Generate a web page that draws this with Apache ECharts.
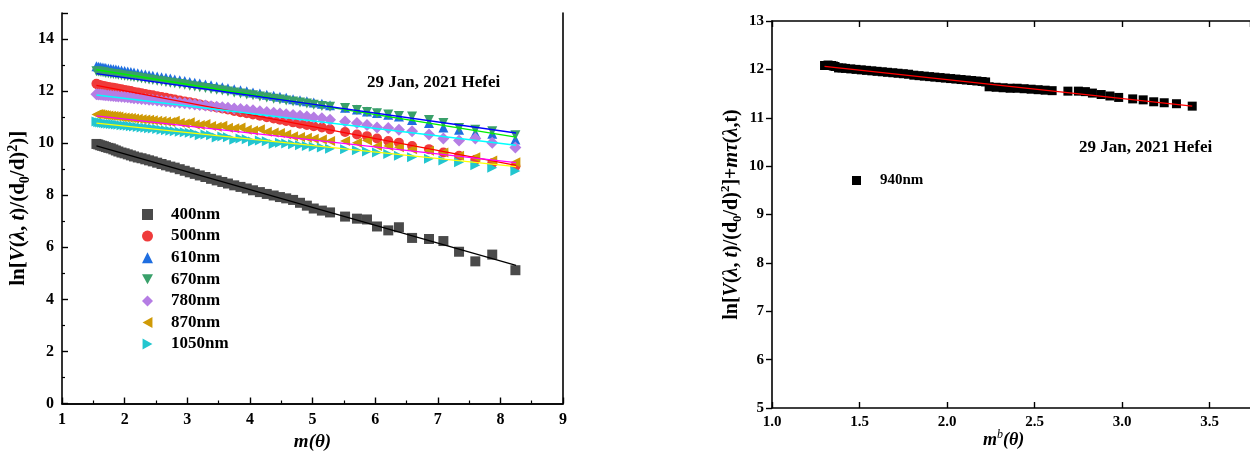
<!DOCTYPE html>
<html>
<head>
    <meta charset="utf-8">
    <title>ln V vs air mass</title>
    <script src="https://cdn.jsdelivr.net/npm/echarts@6/dist/echarts.min.js"></script>
    <style type="text/css">
        html, body {
            margin: 0;
            padding: 0;
            background: #ffffff;
        }
        #main {
            width: 1250px;
            height: 457px;
        }
    </style>
</head>
<body>
<div id="main"></div>
<script>
    // air mass m(theta), shared by all wavelengths on the left panel
    var xs = [1.55, 1.58, 1.61, 1.64, 1.67, 1.70, 1.74, 1.78, 1.82, 1.86,
        1.90, 1.95, 2.00, 2.05, 2.10, 2.15, 2.21, 2.27, 2.33, 2.39,
        2.45, 2.52, 2.59, 2.66, 2.73, 2.80, 2.88, 2.96, 3.04, 3.12,
        3.20, 3.29, 3.38, 3.47, 3.56, 3.65, 3.75, 3.85, 3.95, 4.05,
        4.16, 4.27, 4.38, 4.48, 4.58, 4.69, 4.80, 4.91, 5.02, 5.15,
        5.28, 5.52, 5.71, 5.87, 6.03, 6.21, 6.38, 6.59, 6.86, 7.09,
        7.34, 7.60, 7.87, 8.24];

    var y400 = [9.97, 9.95, 9.92, 9.90, 9.88, 9.85, 9.82, 9.80, 9.76, 9.72,
        9.68, 9.64, 9.61, 9.57, 9.53, 9.49, 9.45, 9.42, 9.38, 9.34,
        9.30, 9.25, 9.20, 9.15, 9.10, 9.06, 9.00, 8.94, 8.88, 8.82,
        8.76, 8.70, 8.63, 8.57, 8.51, 8.45, 8.38, 8.32, 8.26, 8.19,
        8.12, 8.05, 7.99, 7.93, 7.88, 7.82, 7.71, 7.60, 7.49, 7.41,
        7.34, 7.18, 7.10, 7.07, 6.80, 6.65, 6.77, 6.36, 6.32, 6.24,
        5.83, 5.46, 5.72, 5.12];
    var y500 = [12.28, 12.24, 12.22, 12.21, 12.19, 12.18, 12.16, 12.14, 12.13, 12.11,
        12.09, 12.07, 12.04, 12.02, 12.00, 11.97, 11.95, 11.92, 11.89, 11.86,
        11.84, 11.80, 11.77, 11.74, 11.71, 11.68, 11.64, 11.60, 11.57, 11.53,
        11.49, 11.45, 11.41, 11.37, 11.33, 11.29, 11.24, 11.19, 11.15, 11.10,
        11.05, 11.00, 10.95, 10.90, 10.85, 10.80, 10.75, 10.70, 10.65, 10.60,
        10.53, 10.43, 10.33, 10.27, 10.18, 10.08, 10.02, 9.89, 9.77, 9.64,
        9.52, 9.36, 9.23, 9.11];
    var y610 = [12.95, 12.94, 12.93, 12.91, 12.90, 12.89, 12.87, 12.86, 12.84, 12.83,
        12.81, 12.79, 12.77, 12.75, 12.73, 12.71, 12.69, 12.66, 12.64, 12.61,
        12.59, 12.56, 12.53, 12.51, 12.48, 12.45, 12.42, 12.39, 12.35, 12.32,
        12.29, 12.25, 12.22, 12.18, 12.15, 12.11, 12.07, 12.03, 11.99, 11.95,
        11.91, 11.86, 11.82, 11.78, 11.74, 11.69, 11.65, 11.61, 11.56, 11.51,
        11.46, 11.36, 11.29, 11.22, 11.16, 11.09, 11.02, 10.89, 10.77, 10.60,
        10.52, 10.39, 10.36, 10.14];
    var y670 = [12.76, 12.75, 12.74, 12.73, 12.72, 12.70, 12.69, 12.67, 12.66, 12.65,
        12.63, 12.61, 12.59, 12.58, 12.56, 12.54, 12.52, 12.49, 12.47, 12.45,
        12.43, 12.40, 12.38, 12.35, 12.32, 12.30, 12.27, 12.24, 12.21, 12.18,
        12.15, 12.12, 12.08, 12.05, 12.02, 11.98, 11.95, 11.91, 11.87, 11.84,
        11.79, 11.75, 11.71, 11.68, 11.64, 11.60, 11.56, 11.52, 11.48, 11.43,
        11.40, 11.35, 11.27, 11.20, 11.15, 11.10, 11.04, 11.02, 10.89, 10.77,
        10.58, 10.52, 10.46, 10.30];
    var y780 = [11.88, 11.87, 11.87, 11.86, 11.85, 11.84, 11.83, 11.82, 11.81, 11.80,
        11.79, 11.78, 11.77, 11.76, 11.74, 11.73, 11.72, 11.70, 11.69, 11.67,
        11.66, 11.64, 11.62, 11.60, 11.59, 11.57, 11.55, 11.53, 11.51, 11.49,
        11.47, 11.45, 11.42, 11.40, 11.38, 11.36, 11.33, 11.31, 11.28, 11.26,
        11.23, 11.20, 11.17, 11.14, 11.11, 11.08, 11.05, 11.02, 10.99, 10.96,
        10.90, 10.83, 10.77, 10.70, 10.60, 10.58, 10.52, 10.46, 10.33, 10.18,
        10.10, 10.18, 10.02, 9.83];
    var y870 = [11.10, 11.12, 11.11, 11.09, 11.08, 11.07, 11.06, 11.05, 11.04, 11.03,
        11.02, 11.00, 10.99, 10.98, 10.97, 10.95, 10.94, 10.92, 10.91, 10.90,
        10.88, 10.86, 10.85, 10.83, 10.81, 10.86, 10.78, 10.76, 10.80, 10.72,
        10.70, 10.74, 10.66, 10.63, 10.67, 10.59, 10.57, 10.60, 10.52, 10.49,
        10.53, 10.44, 10.41, 10.39, 10.33, 10.27, 10.24, 10.21, 10.17, 10.14,
        10.08, 10.08, 10.02, 10.10, 9.89, 9.89, 9.84, 9.77, 9.71, 9.64,
        9.52, 9.46, 9.33, 9.27];
    var y1050 = [10.83, 10.80, 10.79, 10.78, 10.77, 10.76, 10.75, 10.74, 10.73, 10.72,
        10.71, 10.69, 10.68, 10.67, 10.65, 10.64, 10.62, 10.60, 10.59, 10.57,
        10.56, 10.54, 10.52, 10.50, 10.48, 10.46, 10.44, 10.42, 10.40, 10.37,
        10.30, 10.33, 10.30, 10.22, 10.26, 10.23, 10.13, 10.18, 10.15, 10.06,
        10.10, 10.07, 9.97, 10.02, 9.99, 9.96, 9.92, 9.89, 9.86, 9.83,
        9.79, 9.77, 9.73, 9.68, 9.64, 9.58, 9.52, 9.46, 9.40, 9.33,
        9.27, 9.15, 9.06, 8.93];

    // linear fits, left panel (end points)
    var fitX = [1.55, 8.25];
    var fit400 = [9.90, 5.31];
    var fit500 = [12.22, 9.15];
    var fitLime = [12.82, 10.23];
    var fitBlue = [12.67, 10.39];
    var fit780 = [11.85, 9.92];
    var fit870 = [11.05, 9.25];
    var fit1050 = [10.77, 9.10];

    // right panel, 940nm
    var x940 = [1.30, 1.31, 1.32, 1.33, 1.34, 1.35, 1.36, 1.38, 1.40, 1.42,
        1.45, 1.48, 1.51, 1.54, 1.57, 1.60, 1.63, 1.66, 1.69, 1.72,
        1.75, 1.78, 1.81, 1.84, 1.87, 1.90, 1.93, 1.96, 1.99, 2.02,
        2.05, 2.08, 2.11, 2.14, 2.17, 2.20, 2.22, 2.24, 2.28, 2.32,
        2.36, 2.40, 2.44, 2.48, 2.52, 2.56, 2.60, 2.69, 2.75, 2.79,
        2.83, 2.88, 2.93, 2.98, 3.06, 3.12, 3.18, 3.24, 3.31, 3.40];
    var y940 = [12.08, 12.08, 12.09, 12.08, 12.08, 12.07, 12.06, 12.03, 12.03, 12.02,
        12.01, 12.00, 11.99, 11.98, 11.97, 11.96, 11.95, 11.94, 11.93, 11.92,
        11.91, 11.90, 11.88, 11.87, 11.86, 11.85, 11.84, 11.83, 11.82, 11.81,
        11.80, 11.79, 11.78, 11.77, 11.76, 11.75, 11.74, 11.64, 11.63, 11.62,
        11.61, 11.61, 11.60, 11.59, 11.58, 11.57, 11.56, 11.55, 11.55, 11.54,
        11.51, 11.48, 11.45, 11.42, 11.39, 11.37, 11.33, 11.31, 11.29, 11.24];
    var fit940X = [1.30, 3.40];
    var fit940 = [12.06, 11.24];

    var leftNames = ['400nm', '500nm', '610nm', '670nm', '780nm', '870nm', '1050nm'];

    var serif = "'Liberation Serif', 'Times New Roman', serif";

    // marker shapes (Origin style)
    var triDown = 'path://M0,0L10,0L5,9Z';
    var triLeft = 'path://M0,5L9,0L9,10Z';
    var triRight = 'path://M9,5L0,0L0,10Z';
    var shapes = ['rect', 'circle', 'triangle', triDown, 'diamond', triLeft, triRight];

    function pairs(xArr, yArr) {
        return yArr.map(function (v, i) {
            return [xArr[i], v];
        });
    }

    function richSet(size, small) {
        return {
            n: {fontFamily: serif, fontWeight: 'bold', fontSize: size, color: '#000', lineHeight: size + 5},
            i: {fontFamily: serif, fontWeight: 'bold', fontStyle: 'italic', fontSize: size, color: '#000', lineHeight: size + 5},
            sub: {fontFamily: serif, fontWeight: 'bold', fontSize: small, color: '#000', verticalAlign: 'bottom', lineHeight: small + 1},
            sup: {fontFamily: serif, fontWeight: 'bold', fontSize: small, color: '#000', verticalAlign: 'top', lineHeight: small + 1},
            isup: {fontFamily: serif, fontStyle: 'italic', fontSize: small, color: '#000', verticalAlign: 'top', lineHeight: small + 1}
        };
    }

    function scatter(name, data, color, symbol) {
        return {
            name: name,
            type: 'scatter',
            xAxisIndex: 0,
            yAxisIndex: 0,
            data: data,
            symbol: symbol,
            symbolSize: symbol === 'diamond' ? 12 : 10,
            itemStyle: {color: color, opacity: 1},
            z: 2
        };
    }

    function fitLine(yArr, color, xi, yi, xArr) {
        return {
            type: 'line',
            xAxisIndex: xi,
            yAxisIndex: yi,
            data: pairs(xArr || fitX, yArr),
            showSymbol: false,
            symbol: 'none',
            lineStyle: {color: color, width: 1.3},
            silent: true,
            z: 5
        };
    }

    var axisLine = {lineStyle: {color: '#000', width: 1.6}};
    var tickLabel = {color: '#000', fontFamily: serif, fontWeight: 'bold', fontSize: 16};

    var chart = echarts.init(document.getElementById('main'), null, {renderer: 'canvas'});

    var option = {
        backgroundColor: '#ffffff',
        animation: false,
        grid: [
            {left: 62, top: 13, width: 501, height: 401},
            {left: 772, top: 21, width: 478, height: 387}
        ],
        xAxis: [
            {
                gridIndex: 0, type: 'value', min: 1, max: 9, interval: 1,
                axisLine: axisLine,
                axisTick: {inside: true, length: 6, lineStyle: {color: '#000', width: 1.4}},
                minorTick: {show: true, splitNumber: 2, length: 3, lineStyle: {color: '#000', width: 1.2}},
                axisLabel: Object.assign({margin: 8}, tickLabel),
                splitLine: {show: false},
                name: '{i|m(θ)}',
                nameLocation: 'middle',
                nameGap: 27,
                nameTextStyle: {rich: richSet(19, 12)}
            },
            {
                gridIndex: 0, type: 'value', min: 1, max: 9, position: 'top',
                axisLine: axisLine, axisTick: {show: false}, axisLabel: {show: false},
                splitLine: {show: false}
            },
            {
                gridIndex: 1, type: 'value', min: 1, max: 3.73, interval: 0.5,
                axisLine: axisLine,
                axisTick: {inside: true, length: 6, lineStyle: {color: '#000', width: 1.4}},
                axisLabel: Object.assign({
                    margin: 7, showMaxLabel: false,
                    formatter: function (v) { return v.toFixed(1); }
                }, tickLabel, {fontSize: 15}),
                splitLine: {show: false}
            },
            {
                gridIndex: 1, type: 'value', min: 1, max: 3.73, interval: 0.5, position: 'top',
                axisLine: axisLine,
                axisTick: {inside: true, length: 6, lineStyle: {color: '#000', width: 1.4}},
                axisLabel: {show: false},
                splitLine: {show: false}
            }
        ],
        yAxis: [
            {
                gridIndex: 0, type: 'value', min: 0, max: 15, interval: 2,
                axisLine: axisLine,
                axisTick: {inside: true, length: 6, lineStyle: {color: '#000', width: 1.4}},
                minorTick: {show: true, splitNumber: 2, length: 3, lineStyle: {color: '#000', width: 1.2}},
                axisLabel: Object.assign({margin: 8, showMaxLabel: false}, tickLabel),
                splitLine: {show: false},
                name: '{n|ln[}{i|V}{n|(}{i|λ}{n|, }{i|t}{n|)/(d}{sub|0}{n|/d)}{sup|2}{n|)]}',
                nameLocation: 'middle',
                nameRotate: 90,
                nameGap: 30,
                nameTextStyle: {rich: richSet(21, 14)}
            },
            {
                gridIndex: 0, type: 'value', min: 0, max: 15, position: 'right',
                axisLine: axisLine, axisTick: {show: false}, axisLabel: {show: false},
                splitLine: {show: false}
            },
            {
                gridIndex: 1, type: 'value', min: 5, max: 13, interval: 1,
                axisLine: axisLine,
                axisTick: {inside: false, length: 6, lineStyle: {color: '#000', width: 1.4}},
                axisLabel: Object.assign({margin: 8}, tickLabel, {fontSize: 15}),
                splitLine: {show: false},
                name: '{n|ln[}{i|V}{n|(}{i|λ}{n|, }{i|t}{n|)/(d}{sub|0}{n|/d)}{sup|2}{n|]+}{i|mτ}{n|(}{i|λ}{n|,t)}',
                nameLocation: 'middle',
                nameRotate: 90,
                nameGap: 28,
                nameTextStyle: {rich: richSet(20, 13)}
            }
        ],
        legend: [
            {
                data: leftNames.map(function (n, i) {
                    return {name: n, icon: shapes[i]};
                }),
                orient: 'vertical',
                left: 137,
                top: 201,
                itemWidth: 11,
                itemHeight: 11,
                itemGap: 4.6,
                textStyle: {
                    fontFamily: serif, fontWeight: 'bold', fontSize: 17, color: '#000',
                    lineHeight: 17, padding: [0, 0, 0, 13]
                }
            },
            {
                data: [{name: '940nm', icon: 'rect'}],
                left: 847,
                top: 168,
                itemWidth: 9,
                itemHeight: 9,
                textStyle: {
                    fontFamily: serif, fontWeight: 'bold', fontSize: 15, color: '#000',
                    padding: [0, 0, 0, 14]
                }
            }
        ],
        graphic: [
            {
                type: 'text', left: 367, top: 74,
                style: {text: '29 Jan, 2021 Hefei', font: 'bold 17px ' + serif, fill: '#000'}
            },
            {
                type: 'text', left: 1079, top: 139,
                style: {text: '29 Jan, 2021 Hefei', font: 'bold 17px ' + serif, fill: '#000'}
            },
            {
                type: 'text', left: 983, top: 429,
                style: {text: '{i|m}{isup|b}{i|(θ)}', rich: richSet(18, 12)}
            }
        ],
        series: [
            scatter('400nm', pairs(xs, y400), '#4a4a4a', shapes[0]),
            scatter('500nm', pairs(xs, y500), '#ef3b3b', shapes[1]),
            scatter('610nm', pairs(xs, y610), '#1f6ee0', shapes[2]),
            scatter('670nm', pairs(xs, y670), '#39a06a', shapes[3]),
            scatter('780nm', pairs(xs, y780), '#b57de4', shapes[4]),
            scatter('870nm', pairs(xs, y870), '#cf9a06', shapes[5]),
            scatter('1050nm', pairs(xs, y1050), '#22c6cf', shapes[6]),
            fitLine(fit400, '#000000', 0, 0),
            fitLine(fit500, '#ff0000', 0, 0),
            fitLine(fitLime, '#00ee00', 0, 0),
            fitLine(fitBlue, '#0000ff', 0, 0),
            fitLine(fit780, '#00ffff', 0, 0),
            fitLine(fit870, '#ff00ff', 0, 0),
            fitLine(fit1050, '#ffff00', 0, 0),
            {
                name: '940nm',
                type: 'scatter',
                xAxisIndex: 2,
                yAxisIndex: 2,
                data: pairs(x940, y940),
                symbol: 'rect',
                symbolSize: 9,
                itemStyle: {color: '#000000', opacity: 1},
                z: 2
            },
            fitLine(fit940, '#ff0000', 2, 2, fit940X)
        ]
    };

    chart.setOption(option);
</script>
</body>
</html>
